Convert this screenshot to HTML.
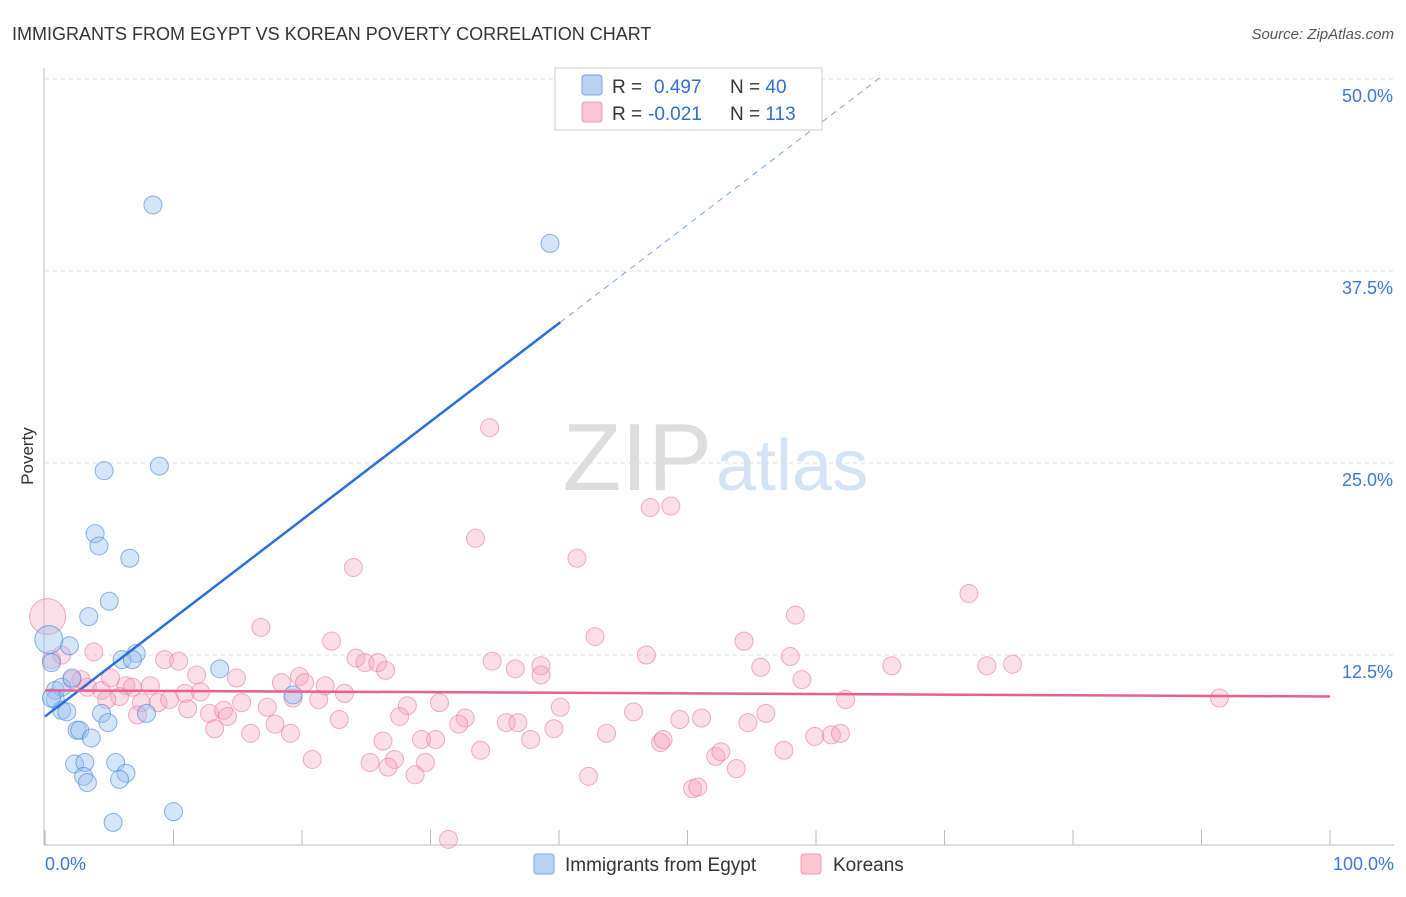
<!DOCTYPE html>
<html><head><meta charset="utf-8"><style>
body{margin:0;background:#fff;font-family:"Liberation Sans",sans-serif;}
svg text{font-family:"Liberation Sans",sans-serif;}
</style></head><body>
<svg id="chart" width="1406" height="892">
<text x="12" y="40" font-size="18" fill="#333">IMMIGRANTS FROM EGYPT VS KOREAN POVERTY CORRELATION CHART</text>
<text x="1394" y="39" font-size="15" fill="#555" font-style="italic" text-anchor="end">Source: ZipAtlas.com</text>
<text x="712" y="490" font-size="96" fill="#ddd" text-anchor="end" font-family="Liberation Serif">ZIP</text>
<text x="716" y="490" font-size="72" fill="#d5e3f5">atlas</text>
<text x="33" y="456" font-size="17" fill="#333" text-anchor="middle" transform="rotate(-90 33 456)">Poverty</text>
<g id="grid"></g><g id="axes"></g><g id="marks"></g>
<g>
<rect x="555" y="68" width="267" height="62" fill="#fff" stroke="#ccc"/>
<rect x="582" y="75" width="20" height="20" rx="3" fill="#b8d2f3" stroke="#7aa8e8"/>
<rect x="582" y="102" width="20" height="20" rx="3" fill="#f8c6d5" stroke="#f09ab3"/>
<text x="612" y="93" font-size="19" fill="#333">R = <tspan x="654" fill="#2f6fd0">0.497</tspan><tspan x="730">N = </tspan><tspan fill="#2f6fd0">40</tspan></text>
<text x="612" y="120" font-size="19" fill="#333">R = <tspan x="648" fill="#2f6fd0">-0.021</tspan><tspan x="730">N = </tspan><tspan fill="#2f6fd0">113</tspan></text>
</g>
<g>
<rect x="534" y="854" width="20" height="20" rx="3" fill="#b8d2f3" stroke="#7aa8e8"/>
<text x="565" y="871" font-size="19" fill="#333">Immigrants from Egypt</text>
<rect x="801" y="854" width="20" height="20" rx="3" fill="#f8c6d5" stroke="#f09ab3"/>
<text x="833" y="871" font-size="19" fill="#333">Koreans</text>
</g>
</svg>
<script>
const yTicks=[12.5,25,37.5,50];
const yTickLabels=["12.5%","25.0%","37.5%","50.0%"];
const xTicks=[0,10,20,30,40,50,60,70,80,90,100];
const egyptX=[8.4,39.3,4.6,8.9,3.9,4.2,6.6,5.0,3.4,1.9,7.1,6.0,6.8,13.6,0.5,0.8,1.3,2.1,19.3,0.8,1.3,1.7,4.4,7.9,4.9,2.5,2.7,3.6,5.5,2.3,3.1,6.3,5.8,3.0,3.3,5.3,10.0,0.5,0.3];
const egyptY=[41.8,39.3,24.5,24.8,20.4,19.6,18.8,16.0,15.0,13.1,12.6,12.2,12.2,11.6,12.0,10.2,10.4,11.0,9.9,9.6,8.9,8.8,8.7,8.7,8.1,7.6,7.6,7.1,5.5,5.4,5.5,4.8,4.4,4.6,4.2,1.6,2.3,9.7,13.5];
const koreaX=[34.6,47.1,48.7,33.5,41.4,24.0,71.9,58.4,16.8,42.8,54.4,22.3,3.8,46.8,24.2,24.9,25.9,26.5,34.8,36.6,38.6,38.6,9.3,10.4,11.8,14.9,19.8,20.2,21.8,18.4,23.3,55.7,58.0,65.9,73.3,75.3,58.9,62.3,91.4,1.3,0.5,2.1,2.8,3.3,4.4,5.1,6.3,6.8,8.2,5.8,4.8,7.5,8.8,10.9,12.1,11.1,9.7,12.8,13.9,15.3,17.3,19.3,21.3,7.2,14.2,13.2,16.0,17.9,19.1,22.9,28.2,30.7,32.7,32.2,27.6,26.3,29.3,30.4,33.9,35.9,36.8,37.8,39.6,40.1,45.8,43.7,47.9,48.1,49.4,51.1,54.7,56.1,52.2,52.6,53.8,57.5,59.9,61.2,61.9,29.6,27.2,26.7,25.3,28.8,20.8,42.3,50.4,50.8,31.4,0.2];
const koreaY=[27.3,22.1,22.2,20.1,18.8,18.2,16.5,15.1,14.3,13.7,13.4,13.4,12.7,12.5,12.3,12.0,12.0,11.5,12.1,11.6,11.8,11.2,12.2,12.1,11.2,11.0,11.1,10.7,10.5,10.7,10.0,11.7,12.4,11.8,11.8,11.9,10.9,9.6,9.7,12.5,12.2,10.9,10.9,10.4,10.2,11.0,10.5,10.4,10.5,9.8,9.6,9.4,9.4,10.0,10.1,9.0,9.6,8.7,8.9,9.4,9.1,9.7,9.6,8.6,8.5,7.7,7.4,8.0,7.4,8.3,9.2,9.4,8.4,8.0,8.5,6.9,7.0,7.0,6.3,8.1,8.1,7.0,7.7,9.1,8.8,7.4,6.8,7.0,8.3,8.4,8.1,8.7,5.9,6.2,5.1,6.3,7.2,7.3,7.4,5.5,5.7,5.2,5.5,4.7,5.7,4.6,3.8,3.9,0.5,15.0];
const egyptTrend=[8.5,0.64];
const koreaTrend=[10.2,-0.004];
const X0=45,X1=1330,Y0=847,YS=15.36;
const sx=v=>X0+v*(X1-X0)/100, sy=v=>Y0-v*YS;
const NS="http://www.w3.org/2000/svg";
function mk(tag,attrs,parent){const e=document.createElementNS(NS,tag);for(const k in attrs)e.setAttribute(k,attrs[k]);document.getElementById(parent).appendChild(e);return e;}
yTicks.forEach((t,i)=>{
 const g=mk('line',{x1:45,x2:1394,y1:sy(t),y2:sy(t),stroke:'#ddd','stroke-dasharray':'4 4'},'grid');
 
 
 const l=mk('text',{x:1393,y:sy(t)+23,'font-size':18,fill:'#3b78d8','text-anchor':'end'},'grid');
 l.textContent=yTickLabels[i];
 
 
});
const ax=mk('line',{x1:44,x2:44,y1:68,y2:845,stroke:'#bbb'},'axes');


const bx=mk('line',{x1:44,x2:1394,y1:845,y2:845,stroke:'#bbb'},'axes');


xTicks.forEach(t=>{
 const k=mk('line',{x1:sx(t),x2:sx(t),y1:830,y2:845,stroke:'#bbb'},'axes');
 
 
});
const xl0=mk('text',{x:45,y:870,'font-size':18,fill:'#3b78d8'},'axes');xl0.textContent='0.0%';


const xl1=mk('text',{x:1394,y:870,'font-size':18,fill:'#3b78d8','text-anchor':'end'},'axes');xl1.textContent='100.0%';


koreaX.forEach((x,i)=>{
 const r=i===koreaX.length-1?18:9;
 const c=mk('circle',{cx:sx(x),cy:sy(koreaY[i]),r:r,fill:'rgba(244,160,190,0.35)',stroke:'rgba(236,120,160,0.6)'},'marks');
 
 
});
egyptX.forEach((x,i)=>{
 const r=i===egyptX.length-1?14:9;
 const c=mk('circle',{cx:sx(x),cy:sy(egyptY[i]),r:r,fill:'rgba(150,190,240,0.4)',stroke:'rgba(60,130,220,0.6)'},'marks');
 
 
});
const ey=x=>egyptTrend[0]+egyptTrend[1]*x;
const l1=mk('line',{x1:sx(0),y1:sy(ey(0)),x2:sx(40.1),y2:sy(ey(40.1)),stroke:'#2a6fd6','stroke-width':2.5},'marks');


const l2=mk('line',{x1:sx(40.1),y1:sy(ey(40.1)),x2:sx(65),y2:sy(ey(65)),stroke:'#7aa8e8','stroke-width':1,'stroke-dasharray':'6 5'},'marks');


const ky=x=>koreaTrend[0]+koreaTrend[1]*x;
const l3=mk('line',{x1:sx(0),y1:sy(ky(0)),x2:sx(100),y2:sy(ky(100)),stroke:'#e8608c','stroke-width':2.5},'marks');


</script>
</body></html>
